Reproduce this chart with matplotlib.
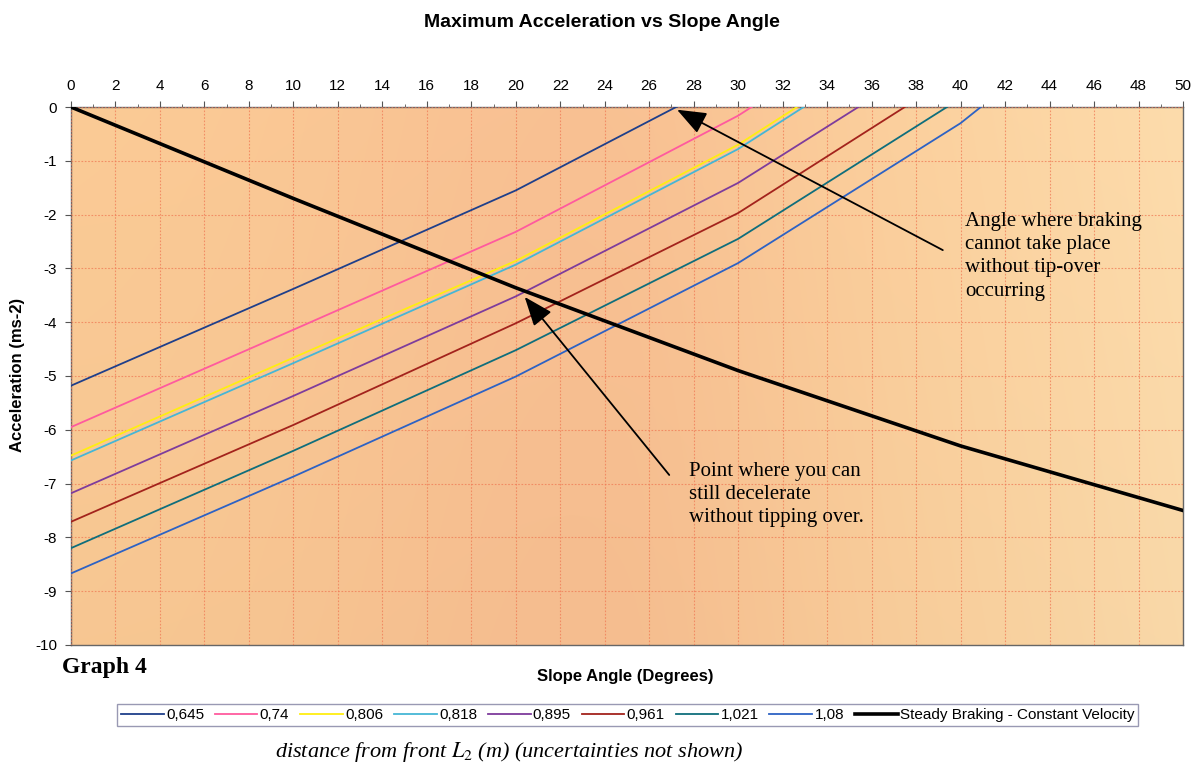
import numpy as np
import matplotlib.pyplot as plt

plt.rcParams["axes.unicode_minus"] = False

# slope angles where the accelerations were worked out
angles = [0, 10, 20, 30, 40, 50]

# max deceleration before tip-over, one series per distance from front L2 (m)
l2_labels = ["0,645", "0,74", "0,806", "0,818", "0,895", "0,961", "1,021", "1,08"]
acc_0645 = [-5.18, -3.38, -1.55, 0.60, 3.20, 5.60]
acc_074 = [-5.95, -4.14, -2.32, -0.16, 2.50, 5.00]
acc_0806 = [-6.48, -4.66, -2.86, -0.70, 1.95, 4.50]
acc_0818 = [-6.57, -4.76, -2.93, -0.78, 1.87, 4.40]
acc_0895 = [-7.18, -5.37, -3.52, -1.41, 1.20, 3.80]
acc_0961 = [-7.71, -5.91, -4.02, -1.97, 0.66, 3.30]
acc_1021 = [-8.20, -6.39, -4.52, -2.45, 0.16, 3.10]
acc_108 = [-8.67, -6.87, -5.01, -2.90, -0.30, 3.00]
series = [acc_0645, acc_074, acc_0806, acc_0818, acc_0895, acc_0961, acc_1021, acc_108]
colors = ["#1f3f8a", "#ff5a9e", "#ffee10", "#45b6d6", "#7e3c9c", "#a3231c", "#0f6e7c", "#2d62c4"]

# steady braking at constant velocity
steady_angles = [0, 10, 20, 30, 40, 50]
steady_acc = [0, -1.70, -3.36, -4.90, -6.30, -7.50]

fig = plt.figure(figsize=(11.97, 7.65), dpi=100)
ax = fig.add_axes([0.0593, 0.1569, 0.929, 0.7032])

# peachy orange background, lighter towards the right
nx, ny = 200, 100
gx = np.linspace(0, 1, nx)[None, :]
gy = np.linspace(0, 1, ny)[:, None]
c_left = np.array([249, 201, 148]) / 255
c_mid = np.array([247, 191, 145]) / 255
c_right = np.array([251, 218, 170]) / 255
t = np.clip((gx - 0.5) / 0.5, 0, 1) ** 1.4
w = np.exp(-((gx - 0.45) ** 2) / 0.06)
base = c_left[None, None, :] * (1 - w[..., None]) + c_mid[None, None, :] * w[..., None]
bg = base * (1 - t[..., None]) + c_right[None, None, :] * t[..., None]
bg = bg + 0.015 * (gy[..., None] - 0.5)
bg = np.broadcast_to(np.clip(bg, 0, 1), (ny, nx, 3))
ax.imshow(bg, extent=[0, 50, -10, 0], aspect="auto", origin="lower",
          interpolation="bilinear", zorder=0)

for ys, lab, c in zip(series, l2_labels, colors):
    ax.plot(angles, ys, color=c, lw=1.3, label=lab, zorder=3)
ax.plot(steady_angles, steady_acc, color="black", lw=2.6,
        label="Steady Braking - Constant Velocity", zorder=4)

ax.set_xlim(0, 50)
ax.set_ylim(-10, 0)
ax.xaxis.tick_top()
ax.set_xticks(np.arange(0, 51, 2))
ax.set_xticks(np.arange(1, 50, 2), minor=True)
ax.set_yticks(np.arange(-10, 1, 1))
ax.tick_params(axis="both", labelsize=11, color="#555555", length=4, width=0.8,
               pad=6)
ax.tick_params(axis="x", which="minor", length=2.5, color="#555555")
for lbl in ax.get_xticklabels() + ax.get_yticklabels():
    lbl.set_fontfamily("Liberation Sans")
ax.grid(True, color="#f07a55", lw=0.8, ls=(0, (1.5, 1.5)), alpha=0.75)
for s in ax.spines.values():
    s.set_color("#666666")
    s.set_linewidth(1.0)
ax.set_axisbelow(False)

# arrows and notes
arrow = dict(arrowstyle="-|>,head_width=0.35,head_length=0.9", color="black",
             lw=1.3, mutation_scale=20, shrinkA=0, shrinkB=0)
ax.annotate("", xy=(27.25, -0.05), xytext=(39.2, -2.66), arrowprops=arrow, zorder=6)
ax.annotate("", xy=(20.4, -3.53), xytext=(26.9, -6.84), arrowprops=arrow, zorder=6)
ax.text(40.2, -1.95, "Angle where braking\ncannot take place\nwithout tip-over\noccurring",
        family="Liberation Serif", fontsize=15, va="top", ha="left",
        linespacing=1.3, zorder=7)
ax.text(27.8, -6.6, "Point where you can\nstill decelerate\nwithout tipping over.",
        family="Liberation Serif", fontsize=15, va="top", ha="left",
        linespacing=1.3, zorder=7)

fig.text(0.503, 0.971, "Maximum Acceleration vs Slope Angle", ha="center",
         va="center", fontsize=14, fontweight="bold", family="Liberation Sans")
fig.text(0.015, 0.51, "Acceleration (ms-2)", rotation=90, ha="center",
         va="center", fontsize=12, fontweight="bold", family="Liberation Sans")
fig.text(0.522, 0.116, "Slope Angle (Degrees)", ha="center", va="center",
         fontsize=12, fontweight="bold", family="Liberation Sans")
fig.text(0.052, 0.128, "Graph 4", ha="left", va="center", fontsize=17,
         fontweight="bold", family="Liberation Serif")
fig.text(0.23, 0.017, r"distance from front $L_2$ (m) (uncertainties not shown)",
         ha="left", va="center", fontsize=16, style="italic",
         family="Liberation Serif", math_fontfamily="stix")

leg = fig.legend(loc="center", bbox_to_anchor=(0.5243, 0.065), ncol=9,
                 prop={"family": "Liberation Sans", "size": 11},
                 handlelength=2.8, handletextpad=0.15, columnspacing=0.7,
                 frameon=True, fancybox=False, borderpad=0.25,
                 borderaxespad=0)
leg.get_frame().set_edgecolor("#8080a0")
leg.get_frame().set_linewidth(1.0)

fig.savefig("out.png", dpi=100, facecolor="white")
